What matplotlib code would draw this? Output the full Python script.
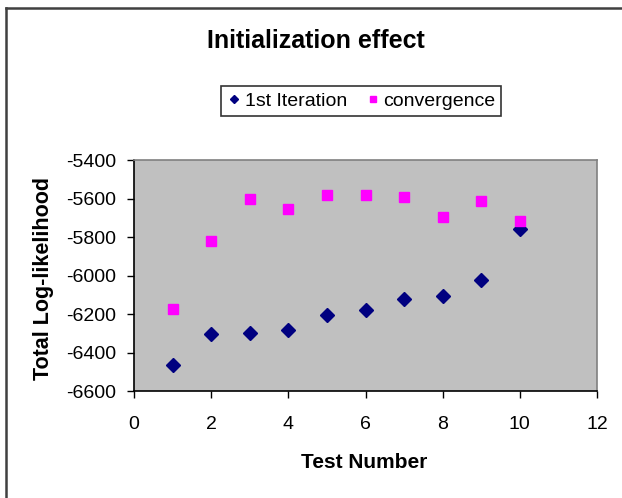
import matplotlib.pyplot as plt
from matplotlib.lines import Line2D

# data
test_number = [1, 2, 3, 4, 5, 6, 7, 8, 9, 10]
first_iteration = [-6463, -6305, -6297, -6285, -6203, -6177, -6123, -6106, -6025, -5756]
convergence = [-6172, -5820, -5604, -5656, -5583, -5583, -5592, -5695, -5612, -5716]

plt.rcParams['font.family'] = ['Liberation Sans', 'DejaVu Sans']
plt.rcParams['axes.unicode_minus'] = False

fig = plt.figure(figsize=(6.22, 4.98), dpi=100)
ax = fig.add_axes([134 / 622, 1 - 391 / 498, 463 / 622, 231 / 498])
ax.set_facecolor('#c0c0c0')

ax.plot(test_number, first_iteration, 'D', color='#000080', markersize=7,
        label='1st Iteration', linestyle='none')
ax.plot(test_number, convergence, 's', color='#ff00ff', markersize=6.5,
        label='convergence', linestyle='none')

ax.set_xlim(0, 12)
ax.set_ylim(-6600, -5400)
ax.set_xticks(range(0, 13, 2))
ax.set_yticks(range(-6600, -5399, 200))
ax.tick_params(direction='out', length=5, width=1, labelsize=14, colors='black')
ax.tick_params(axis='y', pad=8)
ax.tick_params(axis='x', pad=13)

for side in ['left', 'bottom']:
    ax.spines[side].set_color('black')
    ax.spines[side].set_linewidth(1.2)
for side in ['top', 'right']:
    ax.spines[side].set_color('#808080')
    ax.spines[side].set_linewidth(1.2)

fig.text(364 / 622, 1 - 462 / 498, 'Test Number', ha='center', va='center',
         fontsize=15, fontweight='bold')
fig.text(44 / 622, 1 - 279 / 498, 'Total Log-likelihood', ha='center', va='center',
         rotation=90, fontsize=15.5, fontweight='bold')

fig.text(316 / 622, 1 - 41 / 498, 'Initialization effect', ha='center', va='center',
         fontsize=18, fontweight='bold')

leg = fig.legend(loc='center', bbox_to_anchor=(361 / 622, 1 - 101 / 498), ncol=2,
                 frameon=True, fancybox=False, edgecolor='black', fontsize=14,
                 handletextpad=0.15, columnspacing=0.9, handlelength=0.8,
                 markerscale=0.65, borderpad=0.3)
leg.get_frame().set_linewidth(1.2)

# partial chart border (top and left only visible)
fig.add_artist(Line2D([6 / 622, 6 / 622], [0, 1 - 8 / 498], transform=fig.transFigure,
                      color='#404040', linewidth=1.8))
fig.add_artist(Line2D([6 / 622, 1], [1 - 8 / 498, 1 - 8 / 498], transform=fig.transFigure,
                      color='#404040', linewidth=1.8))

fig.savefig('out.png', dpi=100)
